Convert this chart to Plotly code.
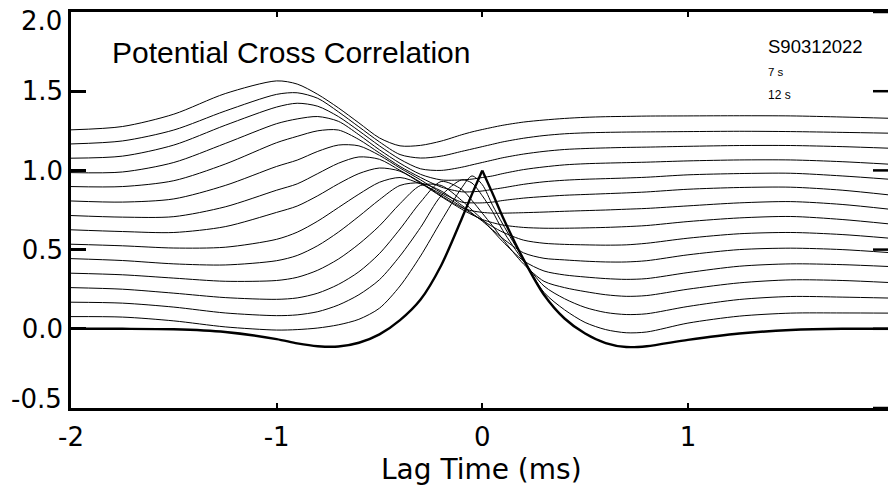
import plotly.graph_objects as go

# Lag grid (ms)
LAGS = [-2.0, -1.75, -1.5, -1.25, -1.0, -0.9, -0.8, -0.7, -0.6, -0.5, -0.4, -0.3, -0.2, -0.1, -0.05,
        0.0, 0.05, 0.1, 0.2, 0.3, 0.4, 0.5, 0.6, 0.7, 0.8, 1.0, 1.25, 1.5, 1.75, 1.98]

# Cross-correlation curves (bottom thick curve = CC_00, then stacked upwards)
CC_00 = [0.0, 0.0, -0.003, -0.02, -0.065, -0.092, -0.11, -0.112, -0.088, -0.035, 0.055, 0.185, 0.40, 0.695, 0.85,
         1.0, 0.855, 0.705, 0.44, 0.215, 0.065, -0.03, -0.09, -0.115, -0.11, -0.07, -0.03, -0.008, 0.0, 0.0]
CC_01 = [0.077, 0.074, 0.05, 0.012, -0.008, -0.005, 0.005, 0.025, 0.06, 0.13, 0.27, 0.46, 0.68, 0.89, 0.965,
         0.91, 0.78, 0.66, 0.44, 0.23, 0.12, 0.04, -0.005, -0.025, -0.02, 0.036, 0.08, 0.099, 0.10, 0.099]
CC_02 = [0.168, 0.162, 0.137, 0.10, 0.083, 0.088, 0.108, 0.15, 0.215, 0.31, 0.46, 0.64, 0.84, 0.94, 0.92,
         0.84, 0.74, 0.62, 0.43, 0.27, 0.19, 0.135, 0.103, 0.09, 0.095, 0.141, 0.185, 0.204, 0.20, 0.194]
CC_03 = [0.26, 0.25, 0.225, 0.197, 0.186, 0.195, 0.225, 0.28, 0.36, 0.475, 0.63, 0.80, 0.93, 0.88, 0.81,
         0.73, 0.65, 0.565, 0.41, 0.30, 0.26, 0.235, 0.215, 0.205, 0.21, 0.25, 0.29, 0.309, 0.305, 0.292]
CC_04 = [0.351, 0.341, 0.32, 0.30, 0.305, 0.325, 0.37, 0.44, 0.535, 0.65, 0.79, 0.905, 0.905, 0.81, 0.75,
         0.69, 0.62, 0.55, 0.43, 0.365, 0.34, 0.327, 0.317, 0.312, 0.317, 0.355, 0.395, 0.41, 0.405, 0.393]
CC_05 = [0.443, 0.431, 0.41, 0.403, 0.43, 0.463, 0.525, 0.61, 0.71, 0.815, 0.905, 0.92, 0.87, 0.78, 0.73,
         0.68, 0.625, 0.57, 0.48, 0.445, 0.435, 0.427, 0.422, 0.422, 0.43, 0.467, 0.50, 0.509, 0.50, 0.481]
CC_06 = [0.534, 0.524, 0.51, 0.515, 0.565, 0.61, 0.68, 0.765, 0.85, 0.925, 0.955, 0.915, 0.85, 0.77, 0.725,
         0.685, 0.645, 0.61, 0.56, 0.54, 0.533, 0.53, 0.528, 0.53, 0.54, 0.572, 0.60, 0.608, 0.595, 0.572]
CC_07 = [0.625, 0.614, 0.608, 0.645, 0.735, 0.775, 0.84, 0.915, 0.98, 1.015, 0.995, 0.92, 0.835, 0.755, 0.72,
         0.69, 0.67, 0.655, 0.64, 0.635, 0.635, 0.637, 0.64, 0.645, 0.652, 0.677, 0.70, 0.709, 0.69, 0.662]
CC_08 = [0.715, 0.705, 0.708, 0.77, 0.875, 0.915, 0.98, 1.045, 1.085, 1.07, 1.0, 0.925, 0.84, 0.765, 0.745,
         0.735, 0.73, 0.73, 0.733, 0.737, 0.742, 0.746, 0.75, 0.755, 0.76, 0.776, 0.795, 0.803, 0.785, 0.755]
CC_09 = [0.807, 0.80, 0.82, 0.905, 1.025, 1.065, 1.12, 1.16, 1.155, 1.095, 1.015, 0.94, 0.86, 0.80, 0.795,
         0.795, 0.80, 0.81, 0.825, 0.835, 0.843, 0.848, 0.853, 0.858, 0.864, 0.881, 0.892, 0.894, 0.875, 0.845]
CC_10 = [0.898, 0.898, 0.935, 1.04, 1.175, 1.215, 1.25, 1.255, 1.195, 1.11, 1.025, 0.955, 0.895, 0.865, 0.865,
         0.87, 0.88, 0.89, 0.912, 0.928, 0.938, 0.944, 0.948, 0.952, 0.957, 0.972, 0.98, 0.982, 0.965, 0.944]
CC_11 = [0.986, 0.99, 1.05, 1.17, 1.295, 1.325, 1.34, 1.31, 1.225, 1.13, 1.045, 0.975, 0.94, 0.94, 0.945,
         0.955, 0.965, 0.98, 1.005, 1.022, 1.035, 1.042, 1.046, 1.049, 1.052, 1.06, 1.066, 1.066, 1.055, 1.039]
CC_12 = [1.077, 1.09, 1.16, 1.285, 1.40, 1.424, 1.405, 1.34, 1.25, 1.155, 1.07, 1.01, 1.0, 1.02, 1.035,
         1.05, 1.065, 1.08, 1.103, 1.12, 1.132, 1.138, 1.142, 1.145, 1.147, 1.152, 1.157, 1.157, 1.15, 1.14]
CC_13 = [1.167, 1.186, 1.255, 1.375, 1.48, 1.49, 1.455, 1.37, 1.275, 1.18, 1.10, 1.078, 1.09, 1.12, 1.135,
         1.15, 1.165, 1.18, 1.203, 1.22, 1.231, 1.237, 1.24, 1.242, 1.243, 1.245, 1.247, 1.245, 1.24, 1.235]
CC_14 = [1.256, 1.277, 1.355, 1.485, 1.565, 1.545, 1.48, 1.395, 1.30, 1.205, 1.155, 1.158, 1.185, 1.225, 1.243,
         1.258, 1.272, 1.285, 1.305, 1.318, 1.328, 1.335, 1.339, 1.341, 1.343, 1.344, 1.345, 1.344, 1.337, 1.329]

THIN_CURVES = [CC_01, CC_02, CC_03, CC_04, CC_05, CC_06, CC_07,
               CC_08, CC_09, CC_10, CC_11, CC_12, CC_13, CC_14]

X_TICKS = [-2, -1, 0, 1]
X_TICK_TEXT = ["-2", "-1", "0", "1"]
Y_TICKS = [-0.5, 0.0, 0.5, 1.0, 1.5, 2.0]
Y_TICK_TEXT = ["-0.5", "0.0", "0.5", "1.0", "1.5", "2.0"]

X_RANGE = [-2.0, 1.973]
Y_RANGE = [-0.5, 2.0]

fig = go.Figure()

for cc in THIN_CURVES:
    fig.add_trace(go.Scatter(x=LAGS, y=cc, mode="lines",
                             line=dict(color="black", width=1, shape="spline", smoothing=0.8),
                             hoverinfo="skip", showlegend=False))

# thick zero-offset curve, split at its sharp peak
i0 = LAGS.index(0.0)
for xs, ys in ((LAGS[:i0 + 1], CC_00[:i0 + 1]), (LAGS[i0:], CC_00[i0:])):
    fig.add_trace(go.Scatter(x=xs, y=ys, mode="lines",
                             line=dict(color="black", width=2.4, shape="spline", smoothing=0.8),
                             hoverinfo="skip", showlegend=False))

PLOT_W = 888 - 71
PLOT_H = 396
# right-hand ticks (right frame edge lies just outside the window)
shapes = [dict(type="line", xref="paper", yref="y", x0=1 - 15 / PLOT_W, x1=1.0, y0=v, y1=v,
               line=dict(color="black", width=2.5)) for v in Y_TICKS]

TICK_FONT = dict(family="DejaVu Sans", size=26, color="black")

# the end labels of the y axis are nudged inside the frame, as in the original
inner_text = [""] + Y_TICK_TEXT[1:-1] + [""]
end_labels = [
    dict(text=Y_TICK_TEXT[0], xref="paper", yref="paper", x=(64 - 71) / PLOT_W, y=9 / PLOT_H,
         xanchor="right", yanchor="middle", showarrow=False, font=TICK_FONT),
    dict(text=Y_TICK_TEXT[-1], xref="paper", yref="paper", x=(64 - 71) / PLOT_W, y=(408 - 21) / PLOT_H,
         xanchor="right", yanchor="middle", showarrow=False, font=TICK_FONT),
]

fig.update_layout(
    width=888, height=489,
    margin=dict(l=71, r=0, t=12, b=81),
    paper_bgcolor="white", plot_bgcolor="white",
    showlegend=False,
    shapes=shapes,
    xaxis=dict(range=X_RANGE, tickmode="array", tickvals=X_TICKS, ticktext=X_TICK_TEXT,
               ticks="inside", ticklen=5, tickwidth=2, tickcolor="black",
               showline=True, linewidth=2.5, linecolor="black", mirror="ticks",
               showgrid=False, zeroline=False, tickfont=TICK_FONT, ticklabelstandoff=4),
    yaxis=dict(range=Y_RANGE, tickmode="array", tickvals=Y_TICKS, ticktext=inner_text,
               ticks="inside", ticklen=15, tickwidth=2.5, tickcolor="black",
               showline=True, linewidth=2.5, linecolor="black",
               showgrid=False, zeroline=False, tickfont=TICK_FONT, ticklabelstandoff=0),
    annotations=end_labels + [
        dict(text="Lag Time (ms)", xref="paper", yref="paper", x=(481 - 71) / PLOT_W,
             y=(408 - 469) / PLOT_H, xanchor="center", yanchor="middle", showarrow=False,
             font=dict(family="DejaVu Sans", size=28, color="black")),
        dict(text="Potential Cross Correlation", xref="paper", yref="paper", x=(110 - 71) / PLOT_W,
             y=(408 - 53) / PLOT_H, xanchor="left", yanchor="middle", showarrow=False,
             font=dict(family="Liberation Sans", size=30, color="black")),
        dict(text="S90312022", xref="paper", yref="paper", x=(766 - 71) / PLOT_W,
             y=(408 - 46) / PLOT_H, xanchor="left", yanchor="middle", showarrow=False,
             font=dict(family="Liberation Sans", size=18.5, color="black")),
        dict(text="7 s", xref="paper", yref="paper", x=(766 - 71) / PLOT_W,
             y=(408 - 72) / PLOT_H, xanchor="left", yanchor="middle", showarrow=False,
             font=dict(family="Liberation Sans", size=11.5, color="black")),
        dict(text="12 s", xref="paper", yref="paper", x=(766 - 71) / PLOT_W,
             y=(408 - 95) / PLOT_H, xanchor="left", yanchor="middle", showarrow=False,
             font=dict(family="Liberation Sans", size=12, color="black")),
    ],
)

fig.write_html("out.html")
